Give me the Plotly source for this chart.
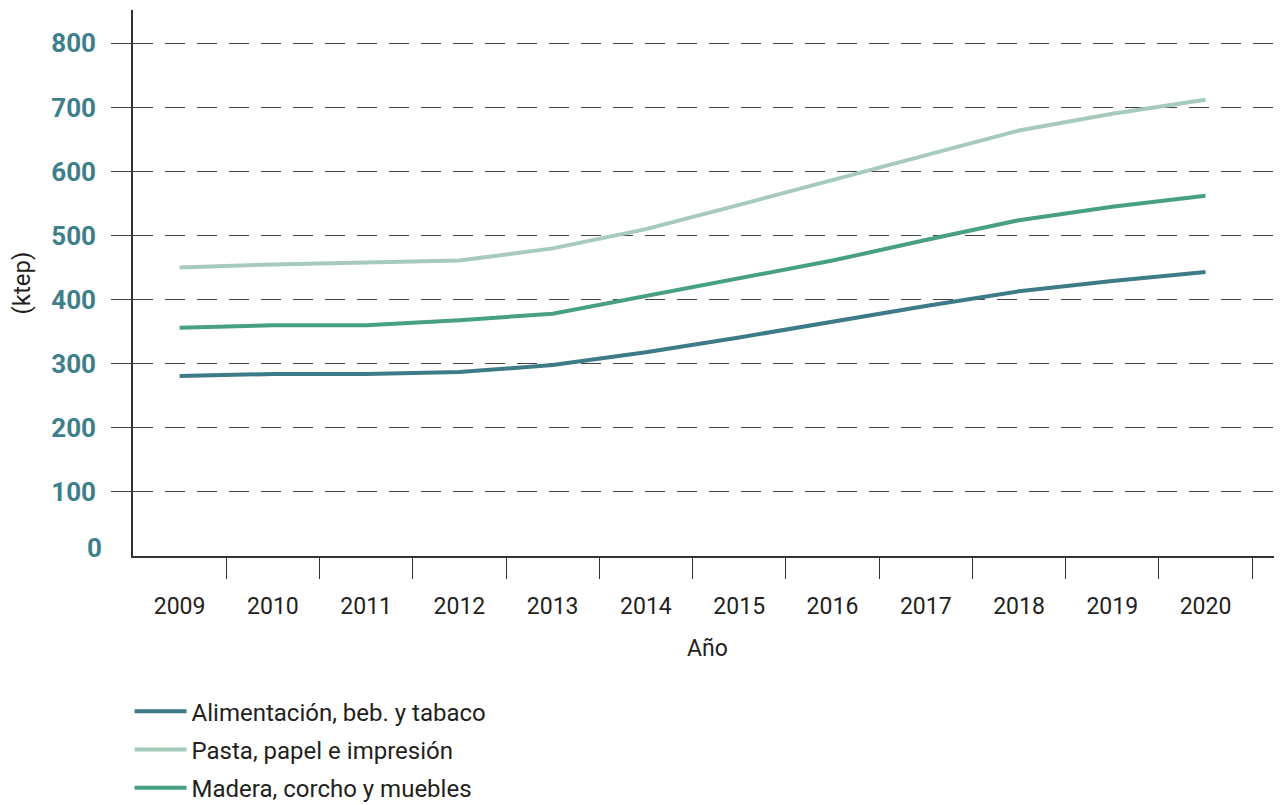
import plotly.graph_objects as go

# datos (ktep)
anios = [2009, 2010, 2011, 2012, 2013, 2014, 2015, 2016, 2017, 2018, 2019, 2020]
alimentacion = [281, 284, 284, 287, 298, 318, 341, 366, 390, 413, 429, 443]
pasta = [450, 455, 458, 461, 480, 510, 548, 587, 625, 664, 690, 712]
madera = [356, 360, 360, 368, 378, 406, 433, 461, 493, 524, 545, 562]
y_ticks = [0, 100, 200, 300, 400, 500, 600, 700, 800]

series = [
    ("Alimentación, beb. y tabaco", alimentacion, "#3d7b88"),
    ("Pasta, papel e impresión", pasta, "#a6cbbb"),
    ("Madera, corcho y muebles", madera, "#47a083"),
]

fig = go.Figure()
for nombre, valores, color in series:
    fig.add_trace(go.Scatter(
        x=anios, y=valores, name=nombre, mode="lines",
        line=dict(color=color, width=4),
        legendgroup=nombre,
    ))

# la página tiene 8px de margen en el body
fig.update_layout(
    width=1274, height=797,
    margin=dict(l=125, r=0, t=2, b=249, autoexpand=False),
    plot_bgcolor="white", paper_bgcolor="white",
    font=dict(family="Roboto", size=22, color="#231f20"),
    showlegend=True,
    legend=dict(
        x=-0.003, y=-0.244, xanchor="left", yanchor="top",
        orientation="v", font=dict(size=24, color="#231f20"),
        tracegroupgap=4, itemwidth=52,
    ),
)

tick_y_font = dict(size=26, color="#3e7f8d", family="Roboto", weight="bold")

fig.update_xaxes(
    range=[2008.5, 2020.82], automargin=False,
    tickmode="array", tickvals=anios, ticktext=[str(a) for a in anios],
    ticks="", ticklabelstandoff=29,
    tickfont=dict(size=23),
    showline=True, linecolor="#333333", linewidth=1.5,
    showgrid=False, zeroline=False,
    minor=dict(ticks="outside", ticklen=21, tickcolor="#333333", tickwidth=1.2,
               tickmode="array", tickvals=[a + 0.5 for a in anios], showgrid=False),
    title=dict(text="Año", font=dict(size=23), standoff=21),
)

fig.update_yaxes(
    range=[0, 852], automargin=False,
    tickmode="array", tickvals=y_ticks[1:],
    ticks="outside", ticklen=20, tickcolor="#444444", tickwidth=1.2,
    ticklabelstandoff=10,
    tickfont=tick_y_font,
    showline=True, linecolor="#333333", linewidth=1.5,
    showgrid=True, gridcolor="#444444", gridwidth=1.2, griddash="20px,12px",
    zeroline=False,
    title=dict(text="(ktep)", font=dict(size=24), standoff=38),
)

# eje auxiliar solo para la etiqueta del 0 (sin tick, algo por encima del eje)
fig.update_layout(yaxis2=dict(
    overlaying="y", side="left", range=[-12.5, 839.5], automargin=False,
    tickmode="array", tickvals=y_ticks[:1], ticks="", ticklabelstandoff=30,
    tickfont=tick_y_font, showgrid=False, zeroline=False, showline=False,
))
fig.add_trace(go.Scatter(x=[None], y=[None], yaxis="y2", showlegend=False,
                         hoverinfo="skip"))

fig.write_html("out.html")
